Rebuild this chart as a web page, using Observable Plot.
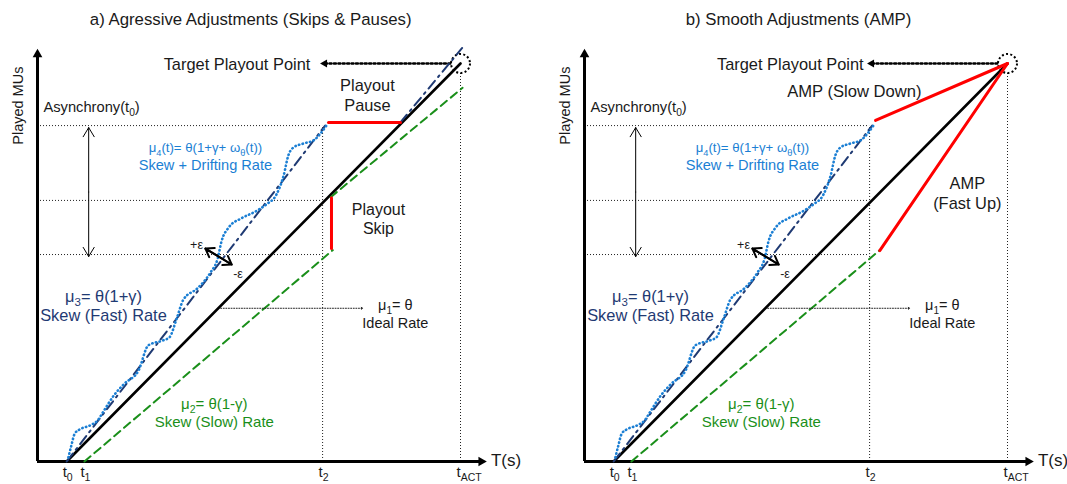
<!DOCTYPE html>
<html><head><meta charset="utf-8">
<script src="https://cdn.jsdelivr.net/npm/d3@7"></script>
<script src="https://cdn.jsdelivr.net/npm/@observablehq/plot@0.6"></script>
<style>
body{margin:0;background:#fff;}
#wrap{display:flex;width:1067px;height:484px;overflow:hidden;}
svg text{font-family:'Liberation Sans',Arial,sans-serif;}
</style></head><body><div id="wrap"></div>
<script>
// ---------- chart values (time units: tACT = 100, MU units: target = 100) ----------
const tickNames = ["t_{0}", "t_{1}", "t_{2}", "t_{ACT}"];
const tickTimes = [6.9, 11.1, 67.4, 100];
const asyncLevels = [84.4, 65.6, 52.0];           // fast / ideal / slow position at t2
const idealX = [6.9, 100], idealY = [0, 100];       // mu1 = theta
const fastX = [6.9, 68.0], fastY = [0, 84.4];       // mu3 = theta(1+gamma)
const slowX = [11.1, 69.8], slowY = [0, 53.1];      // mu2 = theta(1-gamma)
const driftX = [7.3, 8.0, 8.8, 9.9, 12.5, 14.2, 15.6, 18.2, 20.6, 23.9, 26.2, 29.6, 31.2, 32.9, 34.5, 37.8, 40.9, 42.6, 43.5, 45.2, 48.2, 51.5, 54.1, 56.5, 58.2, 59.3, 60.5, 62.9, 65.3, 66.9, 68.3];
const driftY = [1.0, 4.0, 7.0, 8.0, 9.1, 10.3, 12.6, 16.8, 19.6, 22.9, 29.2, 30.4, 31.2, 35.9, 40.7, 43.5, 47.5, 51.0, 55.3, 58.8, 61.1, 62.8, 64.6, 67.1, 71.9, 76.9, 78.9, 79.9, 80.7, 82.4, 84.4];
const targetPoint = [100, 100];
// a) skips & pauses
const pauseX = [68.8, 85.8], pauseY = [85.2, 85.2];
const fastAfterX = [85.8, 100.4], fastAfterY = [85.2, 103.9];
const skipX = [69.5, 69.5], skipY = [66.3, 53.5];
const slowAfterX = [69.3, 100.5], slowAfterY = [66.4, 93.9];
// b) AMP
const slowDownX = [68.8, 100], slowDownY = [85.7, 100];
const fastUpX = [69.8, 100], fastUpY = [53.0, 100];

// ---------- styling ----------
const NAVY = "#1f3a73", LBLUE = "#1b7fd4", GREEN = "#1a8f1a", RED = "#ff0000", INK = "#1a1a1a";
const zipXY = (xs, ys) => d3.zip(xs, ys);
const seg = (xs, ys, o) => Plot.line(zipXY(xs, ys), {x: "0", y: "1", ...o});
const lab = (x, y, text, o = {}) => Plot.text([text], {x: () => x, y: () => y, text: d => d, fill: INK, ...o});

function common(title, titleX, targetTextX) {
  return [
    // dotted guides
    Plot.ruleY(asyncLevels, {x1: 0, x2: tickTimes[2], stroke: "#222", strokeWidth: 1, strokeDasharray: "1,2"}),
    Plot.ruleX([tickTimes[2]], {y1: 0, y2: asyncLevels[0], stroke: "#222", strokeWidth: 1, strokeDasharray: "1,2"}),
    Plot.ruleX([tickTimes[3]], {y1: 0, y2: 97.5, stroke: "#222", strokeWidth: 1, strokeDasharray: "1,2"}),
    // axes
    Plot.ruleX([0], {y1: 0, y2: 101.5, stroke: "black", strokeWidth: 3}),
    Plot.ruleY([0], {x1: 0, x2: 104.5, stroke: "black", strokeWidth: 3}),
    Plot.dot([[0, 102.3]], {x: "0", y: "1", symbol: "triangle", r: 3.6, fill: "black", stroke: "none"}),
    Plot.dot([[104.9, 0]], {x: "0", y: "1", symbol: "triangle", r: 3.6, fill: "black", stroke: "none", rotate: 90}),
    lab(107.2, 0.2, "T(s)", {fontSize: 17, textAnchor: "start"}),
    Plot.text(tickNames, {x: (d, i) => tickTimes[i], y: -2.8, text: d => d, fontSize: 15, textAnchor: "start", dx: -4, fill: INK}),
    lab(-4.5, 89.4, "Played MUs", {fontSize: 14.5, rotate: -90}),
    lab(1.4, 88.9, "Asynchrony(t_{0})", {fontSize: 14.7, textAnchor: "start"}),
    lab(titleX, 111, title, {fontSize: 16.8}),
    // asynchrony double arrow
    Plot.arrow([[12.1, 67.7, 12.1, 83.9], [12.1, 67.7, 12.1, 51.5]], {x1: "0", y1: "1", x2: "2", y2: "3", stroke: "black", strokeWidth: 1, headLength: 16, headAngle: 62}),
    // target playout point
    Plot.line([[97.6, 100], [68.3, 100]], {x: "0", y: "1", stroke: "black", strokeWidth: 2.4, strokeDasharray: "2,2.4"}),
    Plot.dot([[67.9, 100]], {x: "0", y: "1", symbol: "triangle", r: 3, fill: "black", stroke: "none", rotate: -90}),
    lab(targetTextX, 99.7, "Target Playout Point", {fontSize: 16.4, textAnchor: "end"}),
    // lines
    seg(slowX, slowY, {stroke: GREEN, strokeWidth: 2, strokeDasharray: "8,5"}),
    seg(idealX, idealY, {stroke: "black", strokeWidth: 2.6}),
    seg(fastX, fastY, {stroke: NAVY, strokeWidth: 2, strokeDasharray: "10,5,2,5"}),
    Plot.line(zipXY(driftX, driftY), {x: "0", y: "1", curve: "monotone-x", stroke: LBLUE, strokeWidth: 2.6, strokeDasharray: "0.4,3.4", strokeLinecap: "round"}),
    Plot.dot([targetPoint], {x: "0", y: "1", r: 9.5, stroke: "black", strokeWidth: 2, strokeDasharray: "2,2.3", fill: "none"}),
    // epsilon arrow
    Plot.arrow([[39.7, 53.5, 45.9, 49.5], [45.9, 49.5, 39.7, 53.5]], {x1: "0", y1: "1", x2: "2", y2: "3", stroke: "black", strokeWidth: 2, headLength: 7, headAngle: 70}),
    lab(37.6, 54.4, "+ε", {fontSize: 12.5}),
    lab(47.4, 47.0, "-ε", {fontSize: 12.5}),
    // ideal pointer
    Plot.line([[43.3, 38.5], [76.6, 38.5]], {x: "0", y: "1", stroke: "#222", strokeWidth: 1, strokeDasharray: "1,1.6"}),
    Plot.vector([[76.8, 38.5]], {x: "0", y: "1", length: 1, rotate: 90, anchor: "end", r: 18, stroke: "#222", strokeWidth: 1}),
    // rate labels
    lab(39.7, 78.8, "μ_{4}(t)= θ(1+γ+ ω_{θ}(t))", {fontSize: 13.2, fill: LBLUE}),
    lab(39.7, 74.3, "Skew + Drifting Rate", {fontSize: 14.6, fill: LBLUE}),
    lab(15.6, 41.4, "μ_{3}= θ(1+γ)", {fontSize: 16.4, fill: NAVY}),
    lab(15.6, 36.6, "Skew (Fast) Rate", {fontSize: 16.4, fill: NAVY}),
    lab(84.6, 39.3, "μ_{1}= θ", {fontSize: 14.5, fill: INK}),
    lab(84.6, 34.6, "Ideal Rate", {fontSize: 14.5, fill: INK}),
    lab(41.8, 14.4, "μ_{2}= θ(1-γ)", {fontSize: 15, fill: GREEN}),
    lab(41.8, 9.8, "Skew (Slow) Rate", {fontSize: 15, fill: GREEN})
  ];
}

function panel(width, marks) {
  return Plot.plot({
    width, height: 484,
    marginLeft: 0, marginRight: 0, marginTop: 0, marginBottom: 0,
    x: {type: "linear", domain: [0, 100], range: [37, 460], axis: null},
    y: {type: "linear", domain: [0, 100], range: [461, 63], axis: null},
    style: {fontFamily: "'Liberation Sans', Arial, sans-serif", background: "white", overflow: "visible"},
    marks
  });
}

function richify(svg) {
  svg.querySelectorAll("text").forEach(el => {
    if (el.children.length) return;
    const s = el.textContent;
    if (!s.includes("_{")) return;
    el.textContent = "";
    const parts = s.split(/(_\{[^}]*\})/);
    let down = false;
    parts.forEach(p => {
      if (!p) return;
      const ts = document.createElementNS("http://www.w3.org/2000/svg", "tspan");
      if (p.startsWith("_{")) {
        ts.textContent = p.slice(2, -1);
        ts.setAttribute("font-size", "70%");
        ts.setAttribute("dy", "4");
        down = true;
      } else {
        ts.textContent = p;
        if (down) { ts.setAttribute("dy", "-4"); down = false; }
      }
      el.appendChild(ts);
    });
  });
  return svg;
}

const left = panel(547, [
  ...common("a) Agressive Adjustments (Skips & Pauses)", 50.4, 64.5),
  seg(fastAfterX, fastAfterY, {stroke: NAVY, strokeWidth: 2, strokeDasharray: "10,5,2,5"}),
  seg(slowAfterX, slowAfterY, {stroke: GREEN, strokeWidth: 2, strokeDasharray: "8,5"}),
  seg(pauseX, pauseY, {stroke: RED, strokeWidth: 3}),
  seg(skipX, skipY, {stroke: RED, strokeWidth: 3}),
  lab(78.0, 94.3, "Playout", {fontSize: 16.4}),
  lab(78.0, 89.3, "Pause", {fontSize: 16.4}),
  lab(80.6, 63.2, "Playout", {fontSize: 16}),
  lab(80.6, 58.4, "Skip", {fontSize: 16})
]);

const right = panel(520, [
  ...common("b) Smooth Adjustments (AMP)", 50.6, 66.0),
  seg(slowDownX, slowDownY, {stroke: RED, strokeWidth: 3}),
  seg(fastUpX, fastUpY, {stroke: RED, strokeWidth: 3}),
  lab(63.8, 93.0, "AMP (Slow Down)", {fontSize: 16.6}),
  lab(90.5, 69.9, "AMP", {fontSize: 16.4}),
  lab(90.5, 64.7, "(Fast Up)", {fontSize: 16.4})
]);

const wrap = document.getElementById("wrap");
wrap.append(richify(left), richify(right));
</script></body></html>
